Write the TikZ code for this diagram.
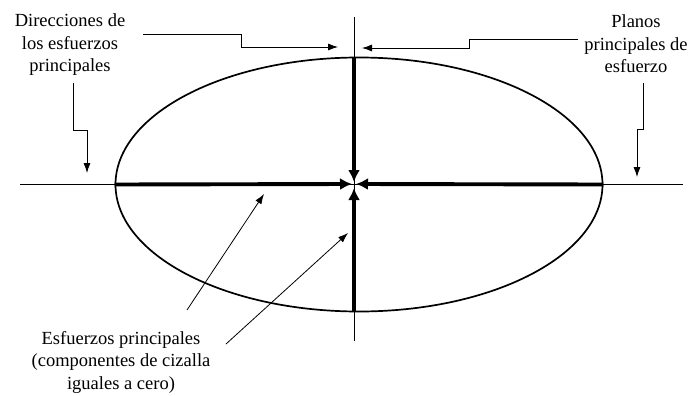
\documentclass[tikz,border=0pt]{standalone}
\usepackage{fontspec}
\setmainfont{Liberation Serif}
\usetikzlibrary{arrows.meta,shapes.geometric}

\begin{document}
\begin{tikzpicture}[x=1pt,y=-1pt,
    every node/.style={font=\fontsize{18.5}{22.5}\selectfont},
    lbl/.style={align=center, inner sep=0pt},
    axis/.style={line width=0.8pt},
    elli/.style={draw, ellipse, line width=1.7pt, inner sep=0pt,
                 minimum width=487pt, minimum height=254pt},
    stress/.style={line width=3.9pt, -{Latex[length=12pt,width=12pt]}},
    lead/.style={line width=0.8pt, -{Latex[length=10pt,width=7pt]}},
  ]
  \useasboundingbox (0,0) rectangle (693,396);

  % axes through the centre
  \coordinate (ctr) at (354,184);
  \draw[axis] (20,184) -- (683,184);
  \draw[axis] (354,17) -- (354,341);

  % the ellipse
  \node[elli] (ell) at (359,184.5) {};

  % principal stresses
  \draw[stress] (ell.west) -- (352,184);
  \draw[stress] (ell.east) -- (356,184);
  \draw[stress] (ell.north -| ctr) -- (354,182);
  \draw[stress] (ell.south -| ctr) -- (354,188);

  % labels
  \node[lbl] (dirlabel)  at (70,45)   {Direcciones de\\los esfuerzos\\principales};
  \node[lbl] (planlabel) at (636,44)  {Planos\\principales de\\esfuerzo};
  \node[lbl] (esflabel)  at (121,362) {Esfuerzos principales\\(componentes de cizalla\\iguales a cero)};

  % leaders
  \coordinate (d1) at (143,34);
  \coordinate (d2) at (73,83);
  \coordinate (p1) at (578,39);
  \coordinate (p2) at (643,83);
  \coordinate (e1) at (187,310);
  \coordinate (e2) at (226,344);

  \draw[lead] (d1) -- (241,34) -- (241,47) -- (338,47);
  \draw[lead] (d2) -- (73,130) -- (87,130) -- (87,173);
  \draw[lead] (p1) -- (469,39) -- (469,48) -- (362,48);
  \draw[lead] (p2) -- (643,129) -- (637,129) -- (637,177);
  \draw[lead] (e1) -- (264,194);
  \draw[lead] (e2) -- (348,233);
\end{tikzpicture}
\end{document}
